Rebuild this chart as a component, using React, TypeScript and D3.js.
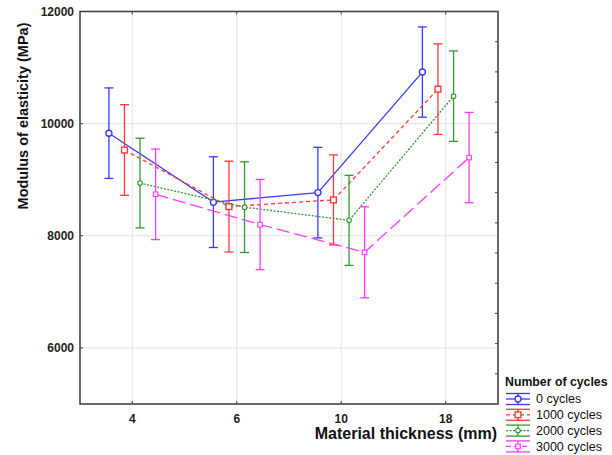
import React from 'react';
import * as d3 from 'd3';

const thickness = ['4', '6', '10', '18'];
const cycleLabels = ['0 cycles', '1000 cycles', '2000 cycles', '3000 cycles'];
const mean0 = [9830, 8600, 8770, 10920];
const mean1 = [9530, 8520, 8640, 10615];
const mean2 = [8940, 8510, 8275, 10490];
const mean3 = [8740, 8200, 7705, 9395];
const err0 = [807, 809, 808, 805];
const err1 = [808, 810, 803, 808];
const err2 = [800, 808, 803, 807];
const err3 = [808, 805, 812, 805];
const yTicks = [6000, 8000, 10000, 12000];

const colors = ['#3a3aff', '#ff3a3a', '#2f9a2f', '#ff3aff'];
const dashes = ['none', '4,3', '2,1.5', '13,5'];
const markers = ['circle', 'square', 'smallCircle', 'smallSquare'];

const series = [mean0, mean1, mean2, mean3].map((m, i) => ({
  name: cycleLabels[i], means: m, errs: [err0, err1, err2, err3][i],
  color: colors[i], dash: dashes[i], marker: markers[i],
}));

const W = 612, H = 455;
const margin = { left: 80, right: 114, top: 11.5, bottom: 51 };

function Marker({ type, x, y, color }: { type: string; x: number; y: number; color: string }) {
  if (type === 'circle') return <circle cx={x} cy={y} r={3} fill="#fff" stroke={color} strokeWidth={1.4} />;
  if (type === 'smallCircle') return <circle cx={x} cy={y} r={2.3} fill="#fff" stroke={color} strokeWidth={1.1} />;
  if (type === 'square') return <rect x={x - 2.9} y={y - 2.9} width={5.8} height={5.8} fill="#fff" stroke={color} strokeWidth={1.4} />;
  return <rect x={x - 2.3} y={y - 2.3} width={4.6} height={4.6} fill="#fff" stroke={color} strokeWidth={1.1} />;
}

export default function App() {
  const x = d3.scaleBand().domain(thickness).range([margin.left, W - margin.right]).padding(0);
  const y = d3.scaleLinear().domain([5000, 12000]).range([H - margin.bottom, margin.top]);
  const right = d3.scaleLinear().domain([0, 13]).range([H - margin.bottom, margin.top]);
  const bw = x.bandwidth();
  const step = bw * 0.149;
  const cx = (t: string, i: number) => (x(t) as number) + bw / 2 + (i - 1.5) * step;
  const line = d3.line<number>();
  const font = 'Arial, "Liberation Sans", sans-serif';
  const x0 = margin.left, x1 = W - margin.right, y0 = H - margin.bottom, y1 = margin.top;

  return (
    <div style={{ position: 'absolute', left: 0, top: 0 }}>
      <svg width={W} height={H} style={{ display: 'block', background: '#fff' }} fontFamily={font}>
        {/* grid */}
        {thickness.map(t => (
          <line key={t} x1={(x(t) as number) + bw / 2} x2={(x(t) as number) + bw / 2} y1={y1} y2={y0} stroke="#e2e2e2" strokeWidth={1} />
        ))}
        {yTicks.map(v => (
          <line key={v} x1={x0} x2={x1} y1={y(v)} y2={y(v)} stroke="#e2e2e2" strokeWidth={1} />
        ))}
        {/* series */}
        {series.map((s, i) => {
          const pts: [number, number][] = thickness.map((t, j) => [cx(t, i), y(s.means[j])]);
          return (
            <g key={s.name}>
              <path d={line(pts) || ''} fill="none" stroke={s.color} strokeWidth={1.3} strokeDasharray={s.dash} />
              {thickness.map((t, j) => {
                const px = cx(t, i);
                const top = y(s.means[j] + s.errs[j]);
                const bot = y(s.means[j] - s.errs[j]);
                return (
                  <g key={t} stroke={s.color} strokeWidth={1.3}>
                    <line x1={px} x2={px} y1={top} y2={bot} />
                    <line x1={px - 4.5} x2={px + 4.5} y1={top} y2={top} />
                    <line x1={px - 4.5} x2={px + 4.5} y1={bot} y2={bot} />
                  </g>
                );
              })}
              {thickness.map((t, j) => (
                <Marker key={t} type={s.marker} x={cx(t, i)} y={y(s.means[j])} color={s.color} />
              ))}
            </g>
          );
        })}
        {/* frame */}
        <rect x={x0} y={y1} width={x1 - x0} height={y0 - y1} fill="none" stroke="#444" strokeWidth={1.6} />
        {thickness.map(t => {
          const px = (x(t) as number) + bw / 2;
          return (
            <g key={t}>
              <line x1={px} x2={px} y1={y0} y2={y0 - 3} stroke="#444" />
              <line x1={px} x2={px} y1={y1} y2={y1 + 3} stroke="#444" />
              <text x={px} y={y0 + 18.5} textAnchor="middle" fontSize={12} fontWeight="bold" fill="#222">{t}</text>
            </g>
          );
        })}
        {yTicks.map(v => (
          <g key={v}>
            <line x1={x0} x2={x0 + 3} y1={y(v)} y2={y(v)} stroke="#444" />
            <text x={x0 - 6} y={y(v)} dy="0.35em" textAnchor="end" fontSize={12} fontWeight="bold" fill="#222">{v}</text>
          </g>
        ))}
        {right.ticks(13).slice(1, -1).map(v => (
          <line key={v} x1={x1} x2={x1 - 3} y1={right(v)} y2={right(v)} stroke="#444" />
        ))}
        {/* axis titles */}
        <text x={497} y={439} textAnchor="end" fontSize={16} fontWeight="bold" fill="#111">Material thickness (mm)</text>
        <text transform="translate(28,116) rotate(-90)" textAnchor="middle" fontSize={14.5} fontWeight="bold" fill="#111">Modulus of elasticity (MPa)</text>
        {/* legend */}
        <text x={505} y={386} fontSize={12.3} fontWeight="bold" fill="#111">Number of cycles</text>
        {series.map((s, i) => {
          const ly = 399 + i * 15.8;
          const lx = 518;
          return (
            <g key={s.name}>
              <g stroke={s.color} strokeWidth={1.3}>
                <line x1={lx - 12} x2={lx + 12} y1={ly - 5.5} y2={ly - 5.5} />
                <line x1={lx - 12} x2={lx + 12} y1={ly + 5.5} y2={ly + 5.5} />
                <line x1={lx} x2={lx} y1={ly - 5.5} y2={ly + 5.5} />
                <line x1={lx - 12} x2={lx + 12} y1={ly} y2={ly} strokeDasharray={s.dash === 'none' ? 'none' : s.dash === '13,5' ? '5,3' : s.dash} />
              </g>
              <Marker type={s.marker} x={lx} y={ly} color={s.color} />
              <text x={536} y={ly} dy="0.35em" fontSize={12.5} fill="#111">{s.name}</text>
            </g>
          );
        })}
      </svg>
    </div>
  );
}
